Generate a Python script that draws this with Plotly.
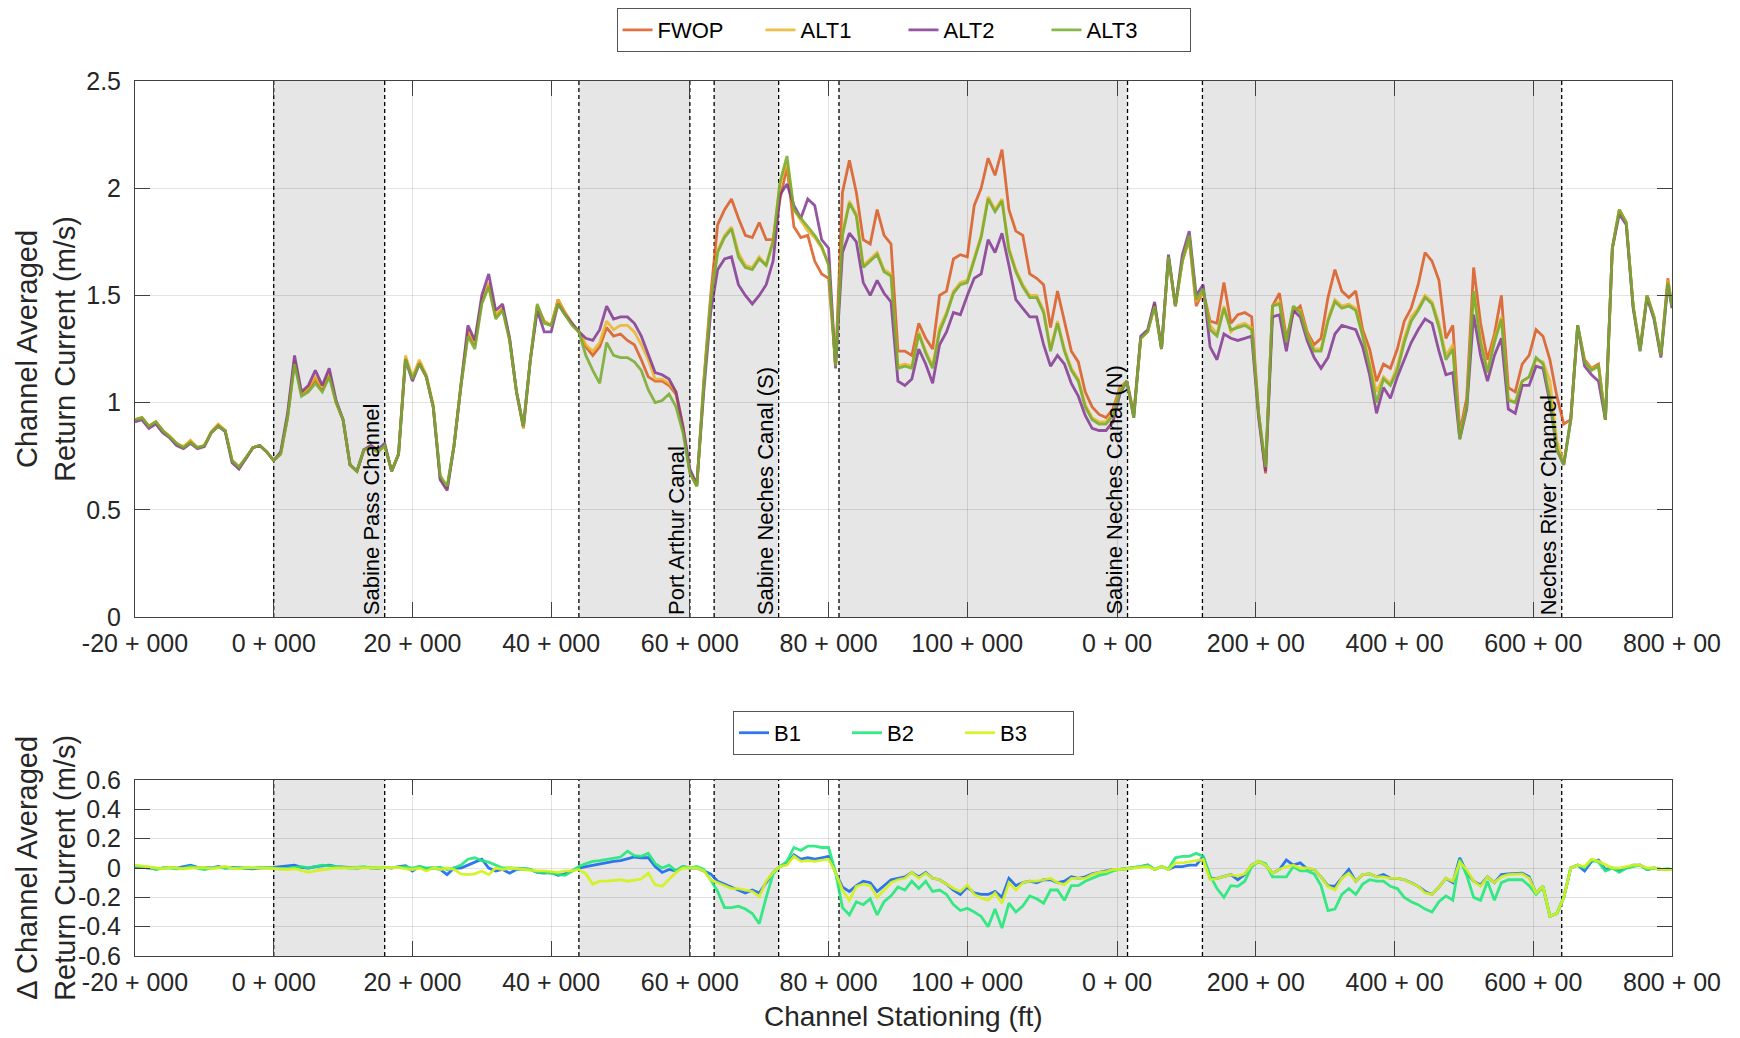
import plotly.graph_objects as go

# ---------------- data ----------------
station = list(range(-20, 202)) + [201.6]

fwop = [0.92, 0.93, 0.89, 0.91, 0.87, 0.84, 0.81, 0.79, 0.82, 0.79,
        0.80, 0.86, 0.895, 0.87, 0.73, 0.70, 0.74, 0.79, 0.80, 0.77,
        0.73, 0.76, 0.93, 1.19, 1.04, 1.06, 1.11, 1.06, 1.13, 1.00,
        0.92, 0.71, 0.68, 0.78, 0.79, 0.77, 0.80, 0.68, 0.76, 1.21,
        1.11, 1.19, 1.12, 0.98, 0.65, 0.60, 0.80, 1.08, 1.32, 1.27,
        1.47, 1.55, 1.40, 1.44, 1.30, 1.05, 0.88, 1.20, 1.45, 1.38,
        1.36, 1.48, 1.42, 1.37, 1.33, 1.26, 1.22, 1.26, 1.35, 1.31,
        1.32, 1.29, 1.27, 1.20, 1.12, 1.10, 1.10, 1.08, 1.04, 0.88,
        0.68, 0.61, 1.10, 1.50, 1.83, 1.90, 1.95, 1.86, 1.78, 1.77,
        1.84, 1.76, 1.76, 1.95, 2.10, 1.82, 1.77, 1.78, 1.66, 1.60,
        1.58, 1.18, 1.98, 2.13, 1.98, 1.76, 1.74, 1.90, 1.78, 1.74,
        1.24, 1.24, 1.22, 1.37, 1.30, 1.25, 1.50, 1.52, 1.67, 1.69,
        1.68, 1.92, 2.00, 2.14, 2.06, 2.18, 1.90, 1.80, 1.78, 1.60,
        1.58, 1.55, 1.35, 1.52, 1.38, 1.24, 1.19, 1.05, 0.98, 0.945,
        0.93, 0.97, 1.07, 1.10, 0.95, 1.30, 1.33, 1.46, 1.25, 1.68,
        1.45, 1.66, 1.76, 1.45, 1.52, 1.38, 1.37, 1.56, 1.37, 1.41,
        1.42, 1.40, 0.95, 0.67, 1.45, 1.51, 1.30, 1.42, 1.45, 1.33,
        1.27, 1.30, 1.49, 1.62, 1.52, 1.49, 1.52, 1.34, 1.25, 1.10,
        1.18, 1.16, 1.25, 1.38, 1.44, 1.55, 1.70, 1.66, 1.57, 1.30,
        1.36, 0.86, 1.02, 1.63, 1.37, 1.20, 1.32, 1.50, 1.07, 1.05,
        1.18, 1.22, 1.34, 1.31, 1.20, 1.03, 0.90, 0.92, 1.36, 1.20,
        1.16, 1.18, 0.92, 1.72, 1.90, 1.84, 1.45, 1.25, 1.50, 1.40,
        1.22, 1.58, 1.45]

alt1 = [0.92, 0.93, 0.89, 0.91, 0.87, 0.845, 0.81, 0.795, 0.825, 0.79,
        0.80, 0.865, 0.90, 0.87, 0.73, 0.70, 0.74, 0.79, 0.80, 0.77,
        0.73, 0.76, 0.94, 1.20, 1.04, 1.07, 1.12, 1.07, 1.14, 1.00,
        0.92, 0.71, 0.68, 0.78, 0.79, 0.77, 0.80, 0.68, 0.76, 1.22,
        1.12, 1.20, 1.13, 0.99, 0.65, 0.60, 0.80, 1.09, 1.34, 1.28,
        1.48, 1.56, 1.41, 1.44, 1.30, 1.05, 0.88, 1.20, 1.45, 1.38,
        1.36, 1.48, 1.42, 1.37, 1.33, 1.27, 1.24, 1.28, 1.38, 1.34,
        1.36, 1.36, 1.33, 1.27, 1.20, 1.11, 1.11, 1.09, 1.05, 0.89,
        0.68, 0.61, 1.08, 1.48, 1.71, 1.78, 1.82, 1.70, 1.64, 1.63,
        1.68, 1.64, 1.76, 2.02, 2.12, 1.90, 1.85, 1.80, 1.77, 1.72,
        1.65, 1.17, 1.79, 1.94, 1.88, 1.64, 1.67, 1.70, 1.62, 1.60,
        1.17, 1.18, 1.17, 1.33, 1.24, 1.17, 1.35, 1.42, 1.52, 1.56,
        1.57, 1.68, 1.78, 1.96, 1.90, 1.95, 1.72, 1.62, 1.55, 1.50,
        1.50, 1.43, 1.25, 1.38, 1.25, 1.16, 1.11, 0.99, 0.93, 0.91,
        0.91, 0.95, 1.06, 1.10, 0.94, 1.30, 1.33, 1.45, 1.25, 1.68,
        1.45, 1.66, 1.77, 1.47, 1.52, 1.36, 1.32, 1.45, 1.33, 1.36,
        1.37, 1.35, 0.95, 0.69, 1.45, 1.47, 1.28, 1.44, 1.43, 1.32,
        1.25, 1.25, 1.39, 1.48, 1.45, 1.46, 1.44, 1.32, 1.19, 1.05,
        1.12, 1.09, 1.17, 1.30, 1.40, 1.44, 1.50, 1.47, 1.37, 1.22,
        1.27, 0.84, 0.99, 1.52, 1.30, 1.15, 1.30, 1.40, 1.02, 1.00,
        1.10, 1.12, 1.20, 1.19, 1.10, 0.82, 0.72, 0.92, 1.36, 1.19,
        1.16, 1.17, 0.92, 1.72, 1.90, 1.84, 1.45, 1.25, 1.50, 1.40,
        1.22, 1.57, 1.45]

alt2 = [0.91, 0.92, 0.88, 0.90, 0.86, 0.835, 0.80, 0.785, 0.81, 0.785,
        0.795, 0.86, 0.89, 0.865, 0.72, 0.69, 0.74, 0.79, 0.80, 0.77,
        0.73, 0.77, 0.95, 1.22, 1.05, 1.08, 1.15, 1.08, 1.16, 1.01,
        0.92, 0.71, 0.68, 0.78, 0.80, 0.78, 0.81, 0.68, 0.76, 1.20,
        1.10, 1.18, 1.12, 0.98, 0.64, 0.59, 0.80, 1.09, 1.36, 1.29,
        1.50, 1.60, 1.43, 1.46, 1.30, 1.05, 0.89, 1.20, 1.43, 1.33,
        1.33, 1.46, 1.41, 1.37, 1.33, 1.30, 1.29, 1.34, 1.45, 1.39,
        1.40, 1.40, 1.37, 1.31, 1.22, 1.14, 1.13, 1.11, 1.05, 0.89,
        0.69, 0.62, 1.05, 1.42, 1.62, 1.67, 1.68, 1.55, 1.50, 1.46,
        1.50, 1.55, 1.66, 1.97, 2.02, 1.92, 1.86, 1.95, 1.92, 1.76,
        1.72, 1.16, 1.70, 1.79, 1.75, 1.56, 1.50, 1.57, 1.51, 1.47,
        1.10, 1.08, 1.11, 1.25, 1.18, 1.09, 1.27, 1.33, 1.42, 1.41,
        1.50, 1.58, 1.60, 1.76, 1.70, 1.79, 1.64, 1.48, 1.44, 1.40,
        1.40, 1.27, 1.17, 1.22, 1.18, 1.09, 1.03, 0.94, 0.88, 0.87,
        0.87, 0.91, 1.04, 1.10, 0.93, 1.31, 1.34, 1.47, 1.25, 1.69,
        1.45, 1.69, 1.80, 1.50, 1.55, 1.26, 1.20, 1.32, 1.30, 1.29,
        1.30, 1.31, 0.93, 0.68, 1.40, 1.41, 1.24, 1.43, 1.40, 1.29,
        1.21, 1.16, 1.21, 1.32, 1.36, 1.35, 1.34, 1.26, 1.13, 0.95,
        1.07, 1.02, 1.12, 1.20, 1.28, 1.34, 1.39, 1.37, 1.24, 1.13,
        1.14, 0.83, 0.97, 1.41, 1.22, 1.10, 1.22, 1.30, 0.97, 0.95,
        1.08, 1.08, 1.17, 1.16, 1.00, 0.78, 0.71, 0.92, 1.36, 1.17,
        1.13, 1.10, 0.92, 1.72, 1.88, 1.83, 1.44, 1.24, 1.49, 1.39,
        1.21, 1.55, 1.44]

alt3 = [0.92, 0.93, 0.89, 0.91, 0.87, 0.84, 0.81, 0.79, 0.815, 0.79,
        0.80, 0.86, 0.89, 0.87, 0.73, 0.70, 0.745, 0.79, 0.80, 0.77,
        0.73, 0.76, 0.93, 1.18, 1.03, 1.05, 1.09, 1.05, 1.12, 1.00,
        0.92, 0.71, 0.68, 0.78, 0.79, 0.77, 0.80, 0.68, 0.76, 1.20,
        1.11, 1.18, 1.12, 0.98, 0.66, 0.61, 0.80, 1.08, 1.31, 1.25,
        1.46, 1.54, 1.39, 1.43, 1.29, 1.05, 0.89, 1.20, 1.46, 1.37,
        1.36, 1.46, 1.41, 1.36, 1.33, 1.22, 1.15, 1.09, 1.28, 1.22,
        1.21, 1.21, 1.19, 1.15, 1.06, 1.00, 1.01, 1.04, 0.98, 0.86,
        0.67, 0.61, 1.08, 1.47, 1.70, 1.77, 1.81, 1.68, 1.63, 1.62,
        1.67, 1.64, 1.75, 2.03, 2.15, 1.90, 1.86, 1.82, 1.78, 1.73,
        1.64, 1.17, 1.78, 1.93, 1.87, 1.63, 1.66, 1.69, 1.61, 1.59,
        1.16, 1.17, 1.16, 1.32, 1.23, 1.16, 1.33, 1.41, 1.51, 1.55,
        1.56, 1.67, 1.77, 1.95, 1.89, 1.94, 1.71, 1.61, 1.54, 1.49,
        1.49, 1.42, 1.24, 1.37, 1.24, 1.15, 1.10, 0.98, 0.92, 0.90,
        0.90, 0.94, 1.05, 1.10, 0.93, 1.30, 1.33, 1.45, 1.25, 1.68,
        1.45, 1.66, 1.78, 1.48, 1.53, 1.34, 1.31, 1.44, 1.34, 1.35,
        1.36, 1.34, 0.95, 0.70, 1.45, 1.46, 1.28, 1.45, 1.42, 1.31,
        1.24, 1.24, 1.38, 1.47, 1.44, 1.45, 1.43, 1.31, 1.17, 1.00,
        1.11, 1.08, 1.15, 1.28, 1.38, 1.43, 1.49, 1.46, 1.35, 1.20,
        1.25, 0.83, 0.98, 1.52, 1.28, 1.14, 1.28, 1.39, 1.01, 1.00,
        1.10, 1.12, 1.21, 1.18, 1.02, 0.78, 0.71, 0.92, 1.36, 1.19,
        1.15, 1.17, 0.92, 1.72, 1.90, 1.84, 1.45, 1.24, 1.50, 1.40,
        1.22, 1.56, 1.45]

b1 = [0.01, 0.005, 0.0, -0.005, 0.0, 0.005, 0.0, 0.01, 0.02, 0.005,
      0.0, 0.0, 0.01, 0.0, 0.005, 0.0, 0.0, -0.005, 0.0, 0.0,
      0.005, 0.01, 0.015, 0.02, 0.005, 0.0, 0.01, 0.015, 0.02, 0.01,
      0.005, 0.0, 0.0, 0.005, 0.0, 0.0, 0.005, 0.0, 0.01, 0.015,
      -0.02, 0.01, -0.005, 0.0, -0.01, -0.045, 0.0, 0.0, 0.02, 0.04,
      0.06, 0.0, -0.02, -0.01, -0.035, -0.01, -0.005, -0.01, -0.03, -0.035,
      -0.03, -0.05, -0.04, -0.02, 0.0, 0.01, 0.02, 0.03, 0.04, 0.045,
      0.05, 0.06, 0.075, 0.07, 0.07, 0.01, -0.03, -0.01, -0.02, 0.01,
      0.0, 0.0, -0.02, -0.04, -0.09, -0.11, -0.13, -0.15, -0.17, -0.15,
      -0.17, -0.10, -0.03, 0.01, 0.03, 0.09, 0.06, 0.07, 0.06, 0.07,
      0.08, -0.03, -0.13, -0.16, -0.12, -0.09, -0.10, -0.16, -0.12, -0.08,
      -0.07, -0.06, -0.03, -0.06, -0.03, -0.07, -0.08, -0.11, -0.15, -0.18,
      -0.13, -0.17, -0.18, -0.18, -0.16, -0.20, -0.07, -0.12, -0.10, -0.09,
      -0.10, -0.08, -0.08, -0.10, -0.09, -0.06, -0.07, -0.06, -0.04, -0.03,
      -0.02, -0.01, -0.01, -0.005, 0.0, 0.01, 0.02, -0.01, 0.01, -0.01,
      0.01, 0.01, 0.02, 0.02, 0.08, -0.07, -0.07, -0.06, -0.045, -0.08,
      -0.045, 0.02, 0.045, 0.02, -0.035, -0.01, 0.055, 0.02, 0.035, -0.005,
      -0.01, -0.06, -0.12, -0.125, -0.07, -0.01, -0.09, -0.045, -0.04, -0.06,
      -0.045, -0.07, -0.07, -0.08, -0.10, -0.125, -0.16, -0.18, -0.13, -0.07,
      -0.10, 0.07, -0.03, -0.09, -0.115, -0.06, -0.10, -0.045, -0.04, -0.035,
      -0.035, -0.06, -0.17, -0.125, -0.33, -0.31, -0.20, 0.0, 0.02, -0.02,
      0.045, 0.055, -0.01, 0.0, -0.02, 0.0, 0.02, 0.02, -0.01, 0.0,
      -0.01, -0.01, -0.01]

b2 = [0.015, 0.01, 0.005, -0.01, 0.0, 0.0, -0.005, 0.0, 0.01, 0.0,
      -0.01, 0.0, 0.005, 0.0, 0.0, -0.005, 0.0, 0.0, 0.005, 0.0,
      0.0, -0.005, 0.0, 0.005, 0.01, 0.0, 0.01, 0.02, 0.015, 0.01,
      0.0, 0.0, 0.005, 0.01, 0.0, 0.0, 0.005, 0.0, 0.005, 0.01,
      0.0, 0.01, 0.0, 0.0, 0.005, -0.01, 0.0, 0.02, 0.06, 0.07,
      0.05, 0.04, 0.02, 0.0, 0.0, 0.0, -0.005, -0.01, -0.03, -0.03,
      -0.035, -0.04, -0.05, -0.02, 0.01, 0.03, 0.045, 0.05, 0.06, 0.065,
      0.075, 0.115, 0.085, 0.08, 0.10, 0.03, 0.0, 0.02, -0.02, 0.01,
      0.0, 0.01, -0.01, -0.08, -0.16, -0.27, -0.27, -0.26, -0.28, -0.31,
      -0.38, -0.20, -0.04, 0.01, 0.045, 0.14, 0.12, 0.15, 0.15, 0.14,
      0.14, -0.03, -0.27, -0.32, -0.23, -0.25, -0.21, -0.32, -0.23, -0.19,
      -0.13, -0.15, -0.09, -0.14, -0.09, -0.16, -0.15, -0.18, -0.25, -0.29,
      -0.275, -0.30, -0.33, -0.40, -0.28, -0.41, -0.24, -0.30, -0.26, -0.19,
      -0.21, -0.24, -0.15, -0.15, -0.22, -0.12, -0.12, -0.09, -0.07, -0.05,
      -0.04, -0.02, -0.01, -0.005, 0.0, 0.01, 0.02, -0.01, 0.01, -0.005,
      0.07, 0.08, 0.08, 0.10, 0.08, -0.05, -0.14, -0.20, -0.12, -0.125,
      -0.09, 0.01, 0.045, 0.03, -0.06, -0.06, -0.06, 0.01, -0.02, -0.02,
      -0.04, -0.12, -0.29, -0.28, -0.18, -0.14, -0.18, -0.11, -0.08, -0.09,
      -0.09, -0.125, -0.14, -0.20, -0.23, -0.25, -0.28, -0.30, -0.23, -0.19,
      -0.22, 0.06, -0.05, -0.20, -0.22, -0.09, -0.22, -0.10, -0.08, -0.08,
      -0.08, -0.12, -0.18, -0.13, -0.33, -0.31, -0.20, 0.0, 0.02, 0.0,
      0.055, 0.04, -0.02, 0.0, -0.03, 0.0, 0.01, 0.02, -0.01, 0.0,
      -0.01, -0.005, -0.01]

b3 = [0.02, 0.015, 0.005, 0.0, -0.005, 0.005, 0.0, -0.005, 0.0, 0.0,
      0.005, -0.005, 0.0, 0.01, 0.0, -0.005, 0.005, 0.0, 0.0, 0.0,
      -0.005, -0.01, -0.01, -0.005, -0.02, -0.03, -0.02, -0.01, -0.005, 0.0,
      0.0, 0.005, 0.005, 0.0, 0.0, 0.0, 0.0, 0.0, 0.005, -0.005,
      -0.01, 0.0, -0.02, 0.0, -0.01, 0.0, -0.01, -0.04, -0.045, -0.04,
      -0.02, -0.045, 0.0, -0.01, 0.0, -0.005, -0.01, -0.01, -0.02, -0.02,
      -0.025, -0.03, -0.02, -0.02, -0.01, -0.04, -0.11, -0.09, -0.09, -0.085,
      -0.08, -0.09, -0.085, -0.075, -0.035, -0.115, -0.125, -0.08, -0.03, 0.0,
      0.0, 0.0, -0.02, -0.08, -0.10, -0.12, -0.14, -0.14, -0.15, -0.16,
      -0.195, -0.09, -0.03, 0.01, 0.02, 0.08, 0.045, 0.05, 0.045, 0.05,
      0.06, -0.03, -0.15, -0.22, -0.125, -0.11, -0.12, -0.20, -0.15, -0.10,
      -0.08, -0.07, -0.03, -0.07, -0.035, -0.07, -0.08, -0.11, -0.14, -0.16,
      -0.115, -0.18, -0.205, -0.22, -0.17, -0.24, -0.10, -0.15, -0.10, -0.09,
      -0.09, -0.08, -0.07, -0.10, -0.115, -0.07, -0.07, -0.07, -0.045, -0.03,
      -0.025, -0.01, -0.01, -0.005, 0.0, 0.01, 0.01, -0.01, 0.01, -0.01,
      0.035, 0.035, 0.045, 0.05, 0.057, -0.08, -0.07, -0.06, -0.045, -0.055,
      -0.04, 0.02, 0.045, 0.02, -0.035, -0.01, 0.01, 0.02, 0.0, 0.0,
      -0.01, -0.06, -0.125, -0.15, -0.07, -0.035, -0.09, -0.045, -0.04, -0.06,
      -0.06, -0.07, -0.07, -0.08, -0.10, -0.125, -0.17, -0.18, -0.13, -0.07,
      -0.09, 0.04, -0.01, -0.09, -0.125, -0.06, -0.10, -0.06, -0.045, -0.04,
      -0.04, -0.07, -0.17, -0.125, -0.33, -0.31, -0.20, 0.0, 0.02, 0.01,
      0.06, 0.045, 0.02, 0.0, 0.0, 0.01, 0.02, 0.02, 0.0, 0.0,
      -0.01, -0.01, -0.01]

x_tickvals = [-20, 0, 20, 40, 60, 80, 100, 121.6, 141.6, 161.6, 181.6, 201.6]
x_ticktext = ["-20 + 000", "0 + 000", "20 + 000", "40 + 000", "60 + 000",
              "80 + 000", "100 + 000", "0 + 00", "200 + 00", "400 + 00",
              "600 + 00", "800 + 00"]
y1_tickvals = [0, 0.5, 1, 1.5, 2, 2.5]
y1_ticktext = ["0", "0.5", "1", "1.5", "2", "2.5"]
y2_tickvals = [-0.6, -0.4, -0.2, 0, 0.2, 0.4, 0.6]
y2_ticktext = ["-0.6", "-0.4", "-0.2", "0", "0.2", "0.4", "0.6"]

shaded_regions = [(0, 16), (44, 60), (63.5, 72.8), (81.5, 123.1), (133.9, 185.7)]
boundaries = [0, 16, 44, 60, 63.5, 72.8, 81.5, 123.1, 133.9, 185.7]
reach_labels = [("Sabine Pass Channel", 16), ("Port Arthur Canal", 60),
                ("Sabine Neches Canal (S)", 72.8), ("Sabine Neches Canal (N)", 123.1),
                ("Neches River Channel", 185.7)]

top_series = [("FWOP", fwop, "rgba(217,83,25,0.82)"),
              ("ALT1", alt1, "rgba(237,177,32,0.82)"),
              ("ALT2", alt2, "rgba(126,47,142,0.82)"),
              ("ALT3", alt3, "rgba(119,172,48,0.88)")]
bot_series = [("B1", b1, "rgba(24,104,238,0.9)"),
              ("B2", b2, "rgba(32,232,120,0.9)"),
              ("B3", b3, "rgba(212,242,28,0.92)")]

FONT = "Liberation Sans, Arial, Helvetica, sans-serif"
TXT = "#262626"

fig = go.Figure()
for name, vals, col in top_series:
    fig.add_trace(go.Scatter(x=station, y=vals, mode="lines", name=name,
                             line=dict(color=col, width=2.8),
                             xaxis="x", yaxis="y", legend="legend"))
for name, vals, col in bot_series:
    fig.add_trace(go.Scatter(x=station, y=vals, mode="lines", name=name,
                             line=dict(color=col, width=2.8),
                             xaxis="x2", yaxis="y2", legend="legend2"))

shapes = []
annotations = []
for xa, ya in (("x", "y"), ("x2", "y2")):
    for a, b in shaded_regions:
        shapes.append(dict(type="rect", xref=xa, yref=ya + " domain", x0=a, x1=b,
                           y0=0, y1=1, fillcolor="#e6e6e6", line=dict(width=0),
                           layer="below"))
for xa, ya in (("x", "y"), ("x2", "y2")):
    for xb in boundaries:
        shapes.append(dict(type="line", xref=xa, yref=ya + " domain", x0=xb, x1=xb,
                           y0=0, y1=1, line=dict(color="black", width=1.3,
                                                 dash="4px,3px"),
                           layer="below"))

for text, xb in reach_labels:
    annotations.append(dict(text=text, x=xb, y=0, xref="x", yref="y domain",
                            xanchor="right", yanchor="bottom", textangle=-90,
                            showarrow=False, xshift=1,
                            font=dict(family=FONT, size=22, color="black")))

annotations.append(dict(text="Channel Averaged<br>Return Current (m/s)",
                        xref="paper", yref="paper", x=-0.058, y=0.6937,
                        xanchor="center", yanchor="middle", textangle=-90,
                        showarrow=False, font=dict(family=FONT, size=29, color=TXT)))
annotations.append(dict(text="\u0394 Channel Averaged<br>Return Current (m/s)",
                        xref="paper", yref="paper", x=-0.058, y=0.1006,
                        xanchor="center", yanchor="middle", textangle=-90,
                        showarrow=False, font=dict(family=FONT, size=29, color=TXT)))
annotations.append(dict(text="Channel Stationing (ft)",
                        xref="paper", yref="paper", x=0.5, y=-0.0697,
                        xanchor="center", yanchor="middle",
                        showarrow=False, font=dict(family=FONT, size=28, color=TXT)))

axis_common = dict(showline=True, linecolor="#404040", linewidth=1, mirror="ticks",
                   ticks="inside", ticklen=15, tickcolor="#404040", tickwidth=1,
                   showgrid=True, gridcolor="rgba(0,0,0,0.11)", gridwidth=1,
                   zeroline=False, tickfont=dict(family=FONT, size=25, color=TXT))

xr = [-20, 201.6]
fig.update_layout(
    width=1740, height=1038,
    margin=dict(l=135, r=68, t=81, b=82, autoexpand=False),
    paper_bgcolor="white", plot_bgcolor="white",
    font=dict(family=FONT, color=TXT),
    xaxis=dict(domain=[0, 1], anchor="y", range=xr, tickmode="array",
               tickvals=x_tickvals, ticktext=x_ticktext, ticklabelstandoff=4,
               **axis_common),
    yaxis=dict(domain=[0.3874, 1], anchor="x", range=[0, 2.5], tickmode="array",
               tickvals=y1_tickvals, ticktext=y1_ticktext, ticklabelstandoff=8,
               **axis_common),
    xaxis2=dict(domain=[0, 1], anchor="y2", range=xr, tickmode="array",
                tickvals=x_tickvals, ticktext=x_ticktext, ticklabelstandoff=4,
                **axis_common),
    yaxis2=dict(domain=[0, 0.2011], anchor="x2", range=[-0.6, 0.6], tickmode="array",
                tickvals=y2_tickvals, ticktext=y2_ticktext, ticklabelstandoff=8,
                **axis_common),
    legend=dict(orientation="h", x=0.5, xanchor="center",
                yref="container", y=0.9923, yanchor="top",
                bordercolor="#555555", borderwidth=1, bgcolor="white",
                entrywidth=98, font=dict(family=FONT, size=22, color="black")),
    legend2=dict(orientation="h", x=0.5, xanchor="center",
                 yref="container", y=0.3151, yanchor="top",
                 bordercolor="#555555", borderwidth=1, bgcolor="white",
                 entrywidth=68, font=dict(family=FONT, size=22, color="black")),
    shapes=shapes,
    annotations=annotations,
)

fig.write_html("out.html")
